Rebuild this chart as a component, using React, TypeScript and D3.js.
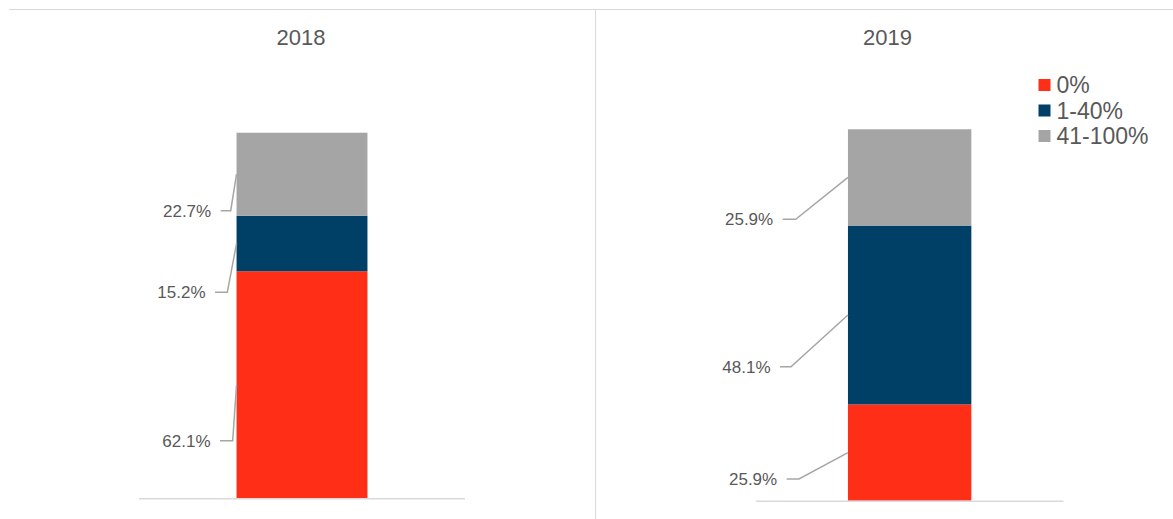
import React from "react";
import * as d3 from "d3";

// ---- data ----
const years = ["2018", "2019"];
const seriesNames = ["0%", "1-40%", "41-100%"];
const values2018 = [62.1, 15.2, 22.7];
const values2019 = [25.9, 48.1, 25.9];
const seriesColors = ["#FF2E17", "#003F66", "#A5A5A5"];

// ---- layout (not data) ----
const W = 1173;
const H = 519;
const panels = [
  { year: years[0], values: values2018, x0: 139, x1: 465, bottom: 498.3, top: 132.7, titleX: 301,
    // per-segment label elbow: [elbowY, elbowX, lineEndX]
    labels: [[440.7, 232.7, 220], [292.3, 227.3, 215], [210.7, 230.7, 220.7]] },
  { year: years[1], values: values2019, x0: 756, x1: 1063.3, bottom: 500.7, top: 128.9, titleX: 887.5,
    labels: [[479, 799, 786.7], [366.7, 791, 780], [219.3, 795.7, 782.7]] },
];

const textColor = "#595959";
const font = "Arial, 'Liberation Sans', sans-serif";

function Panel({ p }: { p: typeof panels[number] }) {
  const x = d3.scaleBand<string>().domain([p.year]).range([p.x0, p.x1]).paddingInner(0.427).paddingOuter(0.427);
  const y = d3.scaleLinear().domain([0, 100]).range([p.bottom, p.top]);
  const stack = d3.stack<Record<string, number>>().keys(seriesNames);
  const row: Record<string, number> = {};
  seriesNames.forEach((k, i) => (row[k] = p.values[i]));
  const stacked = stack([row]);
  const bx = x(p.year)!;
  const bw = x.bandwidth();
  return (
    <g>
      <text x={p.titleX} y={45} textAnchor="middle" fontSize={22} fill={textColor} fontFamily={font}>
        {p.year}
      </text>
      {stacked.map((s, i) => {
        const d = s[0];
        return (
          <rect key={i} x={bx} y={y(d[1])} width={bw} height={y(d[0]) - y(d[1])} fill={seriesColors[i]} />
        );
      })}
      <line x1={p.x0} x2={p.x1} y1={p.bottom + 0.5} y2={p.bottom + 0.5} stroke="#D9D9D9" strokeWidth={1.5} />
      {stacked.map((s, i) => {
        const d = s[0];
        const mid = (y(d[0]) + y(d[1])) / 2;
        const [ey, ex, lx] = p.labels[i];
        const path = d3.line()([
          [bx, mid],
          [ex, ey],
          [lx, ey],
        ]);
        return (
          <g key={"l" + i}>
            <path d={path!} fill="none" stroke="#A6A6A6" strokeWidth={1.5} />
            <text x={lx - 9.5} y={ey} dy="0.36em" textAnchor="end" fontSize={17} fill={textColor} fontFamily={font}>
              {p.values[i].toFixed(1)}%
            </text>
          </g>
        );
      })}
    </g>
  );
}

export default function App() {
  const legendY = d3.scaleLinear().domain([0, 2]).range([85, 136]);
  return (
    <svg width={W} height={H} style={{ position: "absolute", left: 0, top: 0, background: "#fff" }}>
      <line x1={9} x2={W} y1={9.5} y2={9.5} stroke="#D9D9D9" strokeWidth={1} />
      <line x1={595.5} x2={595.5} y1={9.5} y2={H} stroke="#D9D9D9" strokeWidth={1} />
      {panels.map((p) => (
        <Panel key={p.year} p={p} />
      ))}
      {seriesNames.map((n, i) => (
        <g key={n}>
          <rect x={1038.5} y={legendY(i) - 6} width={12} height={12} fill={seriesColors[i]} />
          <text x={1056.5} y={legendY(i)} dy="0.36em" fontSize={23} fill={textColor} fontFamily={font}>
            {n}
          </text>
        </g>
      ))}
    </svg>
  );
}
